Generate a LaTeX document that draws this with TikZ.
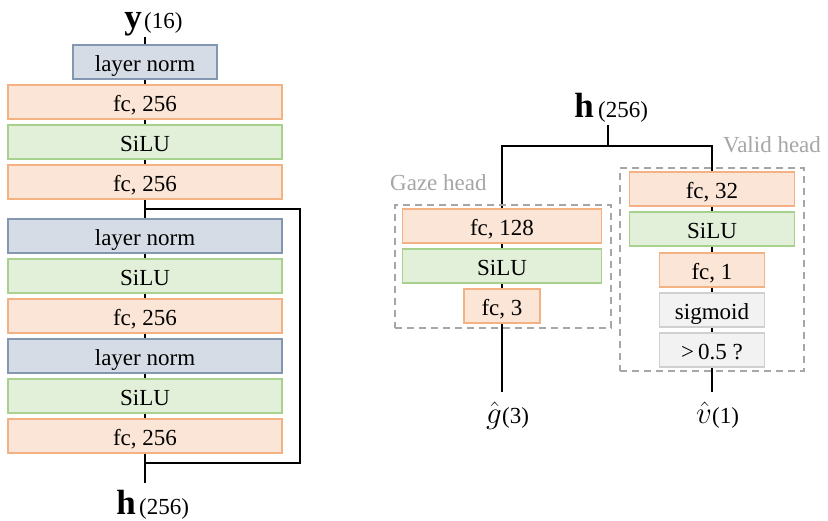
\RequirePackage{fix-cm}
\documentclass[tikz,border=0pt]{standalone}
\usepackage{fontspec}
\setmainfont{Liberation Serif}
\pgfdeclarelayer{background}
\pgfsetlayers{background,main}

\definecolor{fcfill}{HTML}{FBE5D6}
\definecolor{fcline}{HTML}{F4B183}
\definecolor{actfill}{HTML}{E2F0D9}
\definecolor{actline}{HTML}{A9D18E}
\definecolor{normfill}{HTML}{D6DCE5}
\definecolor{normline}{HTML}{8497B0}
\definecolor{gryfill}{HTML}{F2F2F2}
\definecolor{gryline}{HTML}{D0D0D0}
\definecolor{frame}{HTML}{A6A6A6}

\tikzset{
  blk/.style={draw, line width=1.2pt, minimum height=34pt, inner sep=0pt,
    text height=23pt, text depth=5pt,
    font=\fontsize{23}{23}\selectfont},
  fcbox/.style={blk, fill=fcfill, draw=fcline},
  actbox/.style={blk, fill=actfill, draw=actline},
  normbox/.style={blk, fill=normfill, draw=normline},
  greybox/.style={blk, fill=gryfill, draw=gryline},
  wire/.style={line width=1.8pt, black},
  headframe/.style={draw=frame, dash pattern=on 7pt off 5pt, line width=1.5pt,
    inner sep=0pt},
  headlabel/.style={text=frame, inner sep=0pt, font=\fontsize{23}{23}\selectfont},
  bigsym/.style={inner sep=0pt, font=\fontsize{35}{35}\selectfont\bfseries},
  dimtext/.style={inner sep=0pt, font=\fontsize{23}{23}\selectfont},
  mathsym/.style={inner sep=0pt, font=\fontsize{31}{31}\selectfont},
}

\begin{document}
\begin{tikzpicture}[x=1pt, y=-1pt]
\useasboundingbox (0,0) rectangle (828,520);

% ---------------- encoder trunk ----------------
\node[bigsym, anchor=base east] (ysym) at (142,28) {y};
\node[dimtext, anchor=base west] (ydim) at (144,28) {(16)};
\coordinate (ytop) at (145,37);

\node[normbox, minimum width=144pt] (ln1) at (145,62)  {layer norm};
\node[fcbox,   minimum width=274pt] (fc1) at (145,102) {fc, 256};
\node[actbox,  minimum width=274pt] (si1) at (145,142) {SiLU};
\node[fcbox,   minimum width=274pt] (fc2) at (145,182) {fc, 256};

\node[normbox, minimum width=274pt] (ln2) at (145,236) {layer norm};
\node[actbox,  minimum width=274pt] (si2) at (145,276) {SiLU};
\node[fcbox,   minimum width=274pt] (fc3) at (145,316) {fc, 256};
\node[normbox, minimum width=274pt] (ln3) at (145,356) {layer norm};
\node[actbox,  minimum width=274pt] (si3) at (145,396) {SiLU};
\node[fcbox,   minimum width=274pt] (fc4) at (145,436) {fc, 256};

\coordinate (sk1) at (145,209);
\coordinate (skr) at (300,209);
\coordinate (sk2) at (145,463);
\coordinate (hbot) at (145,483);

\node[bigsym, anchor=base east] (hsym) at (136,514) {h};
\node[dimtext, anchor=base west] (hdim) at (139,514) {(256)};

% ---------------- heads ----------------
\node[bigsym, anchor=base east] (hsymr) at (594,117) {h};
\node[dimtext, anchor=base west] (hdimr) at (598,117) {(256)};
\coordinate (htop) at (608,125);
\coordinate (split) at (608,146);

% gaze head
\node[headframe, minimum width=216pt, minimum height=123pt] (gframe) at (503,266.5) {};
\node[headlabel, anchor=base west] (glabel) at (390,190) {Gaze head};
\node[fcbox,  minimum width=199pt] (g1) at (502,226) {fc, 128};
\node[actbox, minimum width=199pt] (g2) at (502,266) {SiLU};
\node[fcbox,  minimum width=76pt]  (g3) at (502,306) {fc, 3};
\coordinate (gout) at (502,392);
\node[mathsym, anchor=base east] (gsym) at (502,423) {$\hat{g}$};
\node[dimtext, anchor=base west] (gdim) at (502,423) {(3)};

% valid head
\node[headframe, minimum width=184pt, minimum height=203pt] (vframe) at (712,269.5) {};
\node[headlabel, anchor=base west] (vlabel) at (723,152) {Valid head};
\node[fcbox,   minimum width=165pt] (v1) at (712,189) {fc, 32};
\node[actbox,  minimum width=165pt] (v2) at (712,229) {SiLU};
\node[fcbox,   minimum width=105pt] (v3) at (712,270) {fc, 1};
\node[greybox, minimum width=105pt] (v4) at (712,310) {sigmoid};
\node[greybox, minimum width=105pt] (v5) at (712,350) {>\,0.5 ?};
\coordinate (vout) at (712,392);
\node[mathsym, anchor=base east] (vsym) at (712,423) {$\hat{v}$};
\node[dimtext, anchor=base west] (vdim) at (712,423) {(1)};

% ---------------- connectors ----------------
\begin{pgfonlayer}{background}
  \draw[wire] (ytop) -- (ln1.north);
  \foreach \a/\b in {ln1/fc1, fc1/si1, si1/fc2, fc2/ln2, ln2/si2, si2/fc3,
                     fc3/ln3, ln3/si3, si3/fc4}
    \draw[wire] (\a.south) -- (\b.north);
  \draw[wire] (fc4.south) -- (hbot);
  \draw[wire] (sk1) -- (skr) |- (sk2);

  \draw[wire] (htop) -- (split);
  \draw[wire] (g1.north) |- (split) -| (v1.north);
  \foreach \a/\b in {g1/g2, g2/g3, v1/v2, v2/v3, v3/v4, v4/v5}
    \draw[wire] (\a.south) -- (\b.north);
  \draw[wire] (g3.south) -- (gout);
  \draw[wire] (v5.south) -- (vout);
\end{pgfonlayer}
\end{tikzpicture}
\end{document}
